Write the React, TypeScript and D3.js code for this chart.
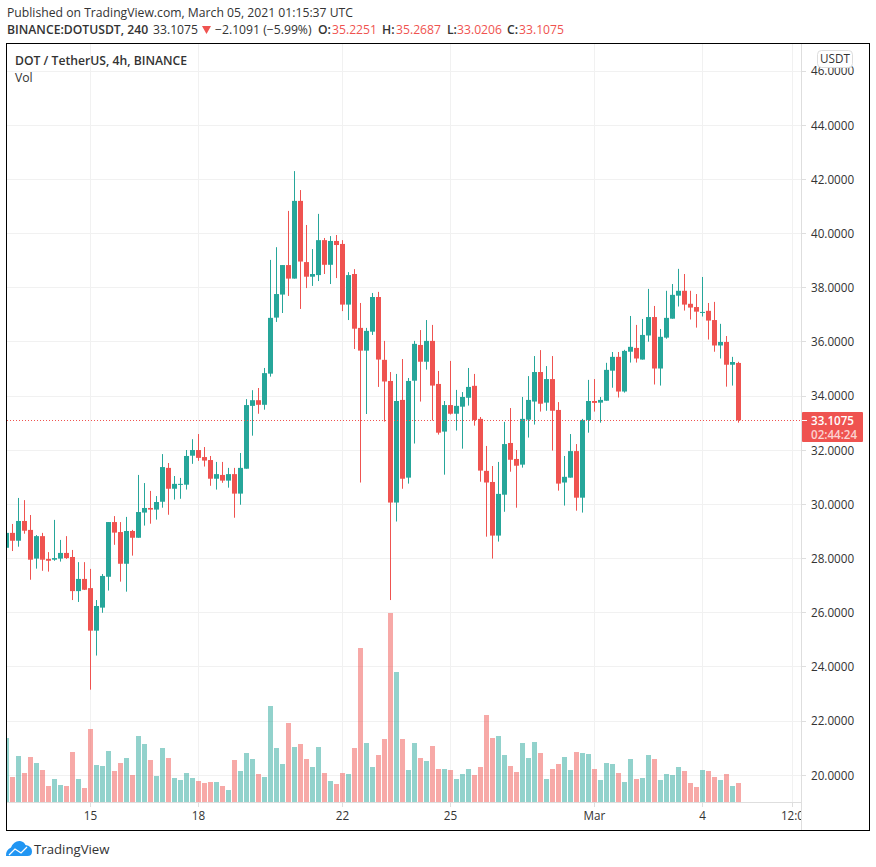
import React from "react";
import * as d3 from "d3";

const opens = [28.40,28.95,28.66,29.39,29.06,28.00,28.83,27.99,27.96,28.00,28.21,28.06,26.80,27.25,26.91,25.34,26.19,27.33,29.35,28.98,27.81,29.02,28.77,29.70,29.87,29.81,30.10,31.35,30.58,30.73,30.73,31.80,32.01,31.75,31.64,30.95,31.09,30.88,31.12,30.40,31.32,33.64,33.85,33.68,34.83,36.90,37.75,38.84,38.34,41.21,38.95,38.41,38.47,39.76,38.85,39.73,39.62,37.38,38.51,36.52,35.68,36.38,37.66,35.34,34.56,30.07,33.86,30.99,34.57,35.89,35.27,36.04,34.45,32.69,33.67,33.35,33.61,33.94,34.38,33.16,31.24,30.83,28.85,30.36,32.27,31.68,31.47,33.13,33.80,34.89,33.76,34.63,33.49,30.81,30.99,31.97,30.25,33.12,33.82,33.76,33.83,34.94,35.45,34.17,35.64,35.78,35.35,36.24,36.92,35.02,36.16,36.86,37.71,37.89,37.41,37.29,37.08,37.15,36.81,35.87,36.00,35.16,35.2251];
const closes = [28.95,28.66,29.39,29.03,27.96,28.83,27.96,27.92,28.02,28.21,28.02,26.80,27.25,26.85,25.34,26.25,27.36,29.35,28.96,27.81,29.02,28.77,29.72,29.87,29.81,30.09,31.38,30.58,30.76,30.76,31.79,32.01,31.72,31.62,30.95,31.12,30.88,31.12,30.40,31.35,33.67,33.85,33.68,34.85,36.89,37.77,38.84,38.34,41.21,38.97,38.41,38.51,39.76,38.85,39.73,39.58,37.38,38.47,36.49,35.68,36.41,37.66,35.35,34.54,30.07,33.82,30.95,34.56,35.93,35.27,36.04,34.39,32.65,33.67,33.35,33.64,33.97,34.34,33.12,31.25,30.81,28.85,30.39,32.23,31.65,31.43,33.16,33.86,34.89,33.72,34.63,33.46,30.77,31.02,31.97,30.25,33.12,33.82,33.75,33.86,34.97,35.45,34.17,35.67,35.82,35.39,36.26,36.92,35.02,36.19,36.89,37.74,37.89,37.38,37.27,37.12,37.11,36.79,35.87,36.00,35.16,35.26,33.1075];
const highs = [29.00,29.28,30.24,30.16,29.61,28.87,28.95,28.24,29.43,28.69,28.83,28.32,27.87,27.87,27.62,26.47,27.43,29.35,29.57,29.35,29.54,29.06,31.09,30.79,30.50,30.31,31.86,31.53,31.05,30.98,32.01,32.41,32.60,32.12,31.79,31.57,31.57,31.35,31.35,31.90,33.89,34.22,34.30,35.04,39.03,39.50,38.84,40.84,42.31,41.61,40.32,39.43,40.73,39.84,39.91,39.95,39.76,38.58,38.69,37.44,36.52,37.81,37.85,36.04,34.89,34.82,35.37,34.67,36.04,36.44,36.81,36.63,34.93,33.82,35.30,34.23,34.15,35.04,34.82,33.23,32.16,31.42,31.57,33.05,33.56,32.01,33.97,34.74,35.48,35.70,35.11,35.48,33.78,31.79,32.60,32.23,33.16,34.60,34.63,33.97,35.23,35.63,35.63,35.71,36.96,36.63,36.85,37.96,37.33,36.48,37.89,38.14,38.70,38.51,37.89,37.77,38.40,37.44,37.48,36.67,36.22,35.45,35.2687];
const lows = [28.30,28.28,28.44,28.92,27.22,27.63,27.55,27.52,27.92,27.89,27.99,26.47,26.40,26.84,23.16,24.42,26.00,26.82,28.51,27.15,26.78,28.11,28.77,29.22,29.29,29.44,29.88,29.62,30.18,30.21,30.55,31.50,31.61,31.40,30.69,30.55,30.80,30.62,29.51,29.99,31.32,32.54,33.35,33.50,34.72,36.74,37.07,37.70,38.34,37.22,37.99,38.07,38.25,38.51,38.14,38.36,37.14,36.81,35.74,30.81,33.34,36.26,34.34,33.06,26.47,29.37,30.58,30.77,32.25,33.80,34.98,33.10,32.58,31.10,33.32,32.73,32.06,33.65,32.91,30.84,28.81,28.00,28.63,29.73,31.21,29.88,31.36,32.47,32.95,33.43,33.46,31.99,30.51,29.96,30.99,29.77,29.70,32.65,33.43,33.02,33.83,34.31,33.95,34.13,35.24,35.24,35.35,36.01,34.43,34.39,36.12,36.86,37.31,37.16,36.83,36.53,36.94,36.09,35.64,35.39,34.35,34.39,33.0206];
const volumes = [64,25,46,29,45,39,32,16,23,17,16,50,23,14,73,37,36,51,31,39,44,27,66,58,42,26,54,44,24,22,29,24,21,19,20,20,16,12,42,31,49,43,28,25,96,54,38,79,55,58,43,35,55,29,21,18,29,28,54,154,59,35,47,63,189,130,63,32,59,44,41,56,33,33,32,23,28,33,27,35,87,64,66,47,36,30,59,44,60,49,23,33,38,45,32,50,49,48,33,22,39,38,29,20,43,23,24,47,43,22,28,27,35,31,19,15,32,31,25,22,28,16,19];

const priceTicks = [20,22,24,26,28,30,32,34,36,38,40,42,44,46];
const timeTickIndex = [14,32,56,74,98,116,131];
const timeTickLabels = ["15","18","22","25","Mar","4","12:0"];
const lastPrice = 33.1075;
const countdown = "02:44:24";

const UP = "#26a69a";
const DOWN = "#ef5350";
const GRID = "#f1f1f1";
const AXIS = "#dedede";
const TEXT = "#333333";
const FONT = "'Open Sans', 'Noto Sans', sans-serif";

const x = d3.scaleLinear().domain([0, 122]).range([6.5, 738.5]);
const y = d3.scaleLinear().domain([20, 46]).range([775.25, 71.17]);
const v = d3.scaleLinear().domain([0, 189]).range([802, 613]);
const crisp = (n: number) => Math.floor(n) + 0.5;

export default function App() {
  const n = opens.length;
  const idx = d3.range(n);
  const isUp = (i: number) => closes[i] >= opens[i];
  const lastY = crisp(y(lastPrice));
  return (
    <svg width={876} height={867} viewBox="0 0 876 867" style={{ position: "absolute", left: 0, top: 0, background: "#fff" }} fontFamily={FONT}>
      <defs>
        <clipPath id="pane"><rect x={7} y={44} width={794.5} height={758} /></clipPath>
        <clipPath id="timeAxis"><rect x={7} y={803} width={794} height={27} /></clipPath>
      </defs>

      <text x={7} y={17} fontSize={12.2} fill={TEXT}>Published on TradingView.com, March 05, 2021 01:15:37 UTC</text>
      <text y={34} fontSize={12.2} fill={TEXT}>
        <tspan x={7} fontWeight={600}>BINANCE:DOTUSDT, 240</tspan>
        <tspan x={153}>33.1075</tspan>
      </text>
      <path d="M202 26 L211 26 L206.5 34 Z" fill={DOWN} />
      <text y={34} fontSize={12.2}>
        <tspan x={215} fill={TEXT}>−2.1091 (−5.99%)</tspan>
        <tspan x={318} fill={TEXT} fontWeight={600}>O:</tspan>
        <tspan x={332} fill={DOWN}>35.2251</tspan>
        <tspan x={382} fill={TEXT} fontWeight={600}>H:</tspan>
        <tspan x={396} fill={DOWN}>35.2687</tspan>
        <tspan x={447} fill={TEXT} fontWeight={600}>L:</tspan>
        <tspan x={457} fill={DOWN}>33.0206</tspan>
        <tspan x={507} fill={TEXT} fontWeight={600}>C:</tspan>
        <tspan x={519} fill={DOWN}>33.1075</tspan>
      </text>

      <g stroke={GRID} strokeWidth={1}>
        {priceTicks.map((p) => (
          <line key={p} x1={7} x2={801} y1={crisp(y(p))} y2={crisp(y(p))} />
        ))}
        {timeTickIndex.map((t) => (
          <line key={t} x1={crisp(x(t))} x2={crisp(x(t))} y1={44} y2={802} />
        ))}
      </g>

      <g clipPath="url(#pane)">
        {idx.map((i) => (
          <rect key={i} x={x(i) - 2.5} width={5} y={v(volumes[i])} height={802 - v(volumes[i])} fill={isUp(i) ? UP : DOWN} fillOpacity={0.5} />
        ))}
        {idx.map((i) => {
          const color = isUp(i) ? UP : DOWN;
          const top = y(Math.max(opens[i], closes[i]));
          const bottom = y(Math.min(opens[i], closes[i]));
          return (
            <g key={i}>
              <rect x={x(i) - 0.5} width={1} y={y(highs[i])} height={y(lows[i]) - y(highs[i])} fill={color} />
              <rect x={x(i) - 2.5} width={5} y={top} height={Math.max(bottom - top, 1)} fill={color} />
            </g>
          );
        })}
        <line x1={7} x2={802} y1={lastY} y2={lastY} stroke={DOWN} strokeWidth={1} strokeDasharray="1 2" />
      </g>

      <text x={15} y={64.5} fontSize={12.2} fontWeight={600} fill={TEXT}>DOT / TetherUS, 4h, BINANCE</text>
      <text x={15} y={81.5} fontSize={12.2} fill={TEXT}>Vol</text>

      <line x1={7} x2={802} y1={802.5} y2={802.5} stroke={AXIS} />
      <line x1={801.5} x2={801.5} y1={44} y2={830} stroke={AXIS} />

      {priceTicks.map((p) => (
        <g key={p}>
          <line x1={802} x2={806} y1={crisp(y(p))} y2={crisp(y(p))} stroke={AXIS} />
          <text x={811} y={y(p) + 4.3} fontSize={11.7} fill={TEXT}>{d3.format(".4f")(p)}</text>
        </g>
      ))}
      <g clipPath="url(#timeAxis)">
        {timeTickIndex.map((t, k) => (
          <g key={t}>
            <line x1={crisp(x(t))} x2={crisp(x(t))} y1={803} y2={807} stroke={AXIS} />
            <text x={x(t)} y={820} fontSize={11.7} fill={TEXT} textAnchor="middle">{timeTickLabels[k]}</text>
          </g>
        ))}
      </g>

      <rect x={817.5} y={50.5} width={35} height={17} rx={4} fill="#fff" stroke="#dddddd" />
      <text x={835} y={63.2} fontSize={11.7} fill={TEXT} textAnchor="middle">USDT</text>

      <rect x={802} y={412} width={61} height={30} rx={1} fill={DOWN} />
      <line x1={802} x2={807} y1={lastY} y2={lastY} stroke="#fff" />
      <text x={811} y={425} fontSize={11.6} fontWeight={600} fill="#fff">{lastPrice.toFixed(4)}</text>
      <text x={811} y={438.5} fontSize={11.6} fontWeight={600} fill="#fff" fillOpacity={0.75}>{countdown}</text>

      <rect x={6.5} y={43.5} width={863} height={787} fill="none" stroke="#000" />

      <path d="M6 856 Q5.5 850 11 847.5 Q14 840.5 20 841 Q24 841.5 25.5 845 Q32 846 32 851.5 Q32 856 27.5 856 Z" fill="#2196f3" />
      <path d="M9 855 L15 849 L21 853 L27 847" fill="none" stroke="#fff" strokeWidth={1.3} />
      <text x={34} y={854} fontSize={13.2} fill={TEXT}>TradingView</text>
    </svg>
  );
}
